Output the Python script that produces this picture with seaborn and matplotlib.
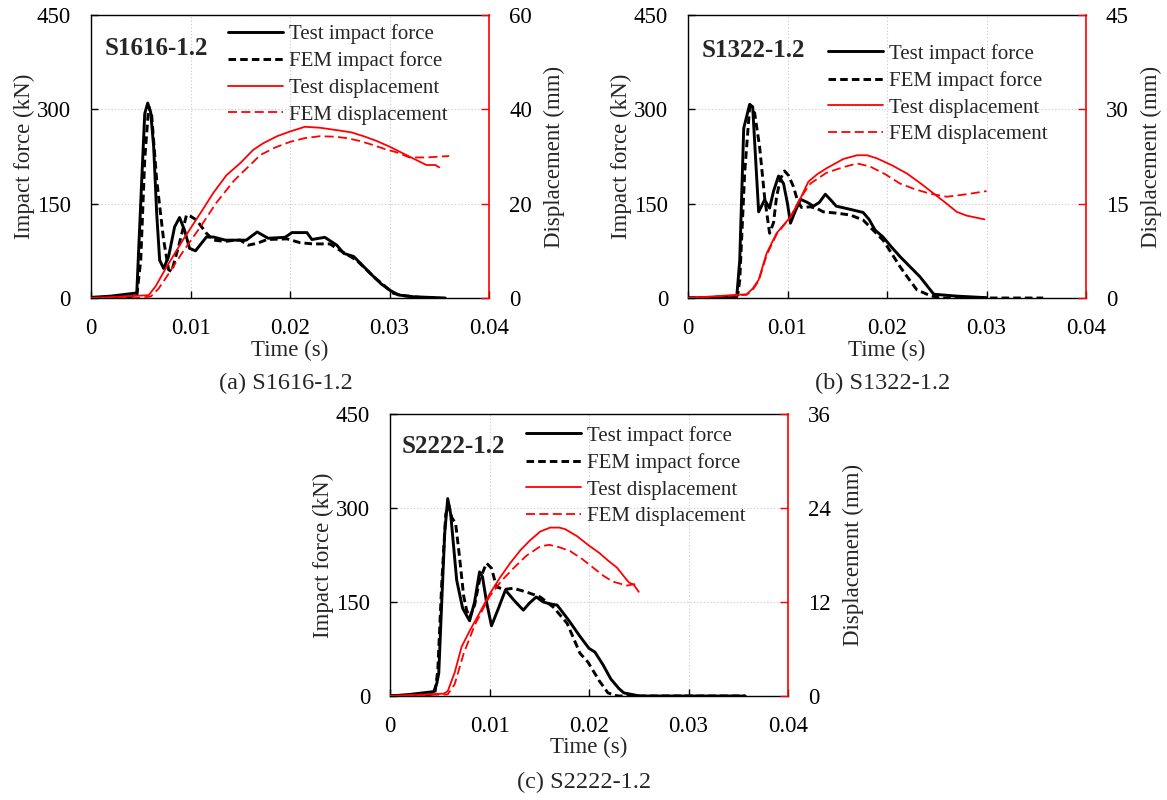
import numpy as np
import pandas as pd
import matplotlib
matplotlib.use("Agg")
import matplotlib.pyplot as plt
import seaborn as sns

# ---------------- data ----------------
x_ticks = [0, 0.01, 0.02, 0.03, 0.04]
x_tick_labels = ["0", "0.01", "0.02", "0.03", "0.04"]
force_ticks = [0, 150, 300, 450]
legend_labels = ["Test impact force", "FEM impact force", "Test displacement", "FEM displacement"]

# Panel (a) S1616-1.2  (time in ms, force kN, displacement mm)
a_test_force_t = [0, 2, 4.6, 5.1, 5.4, 5.7, 6.0, 6.3, 6.6, 6.9, 7.3, 7.8, 8.4, 8.9, 9.4, 9.9, 10.5, 11.6, 12.3, 13.5, 15.0, 15.6, 16.7, 17.8, 19.5, 20.2, 21.7, 22.2, 23.5, 24.7, 25.4, 26.4, 27.4, 28.4, 29.2, 30.0, 30.9, 32.4, 35.6]
a_test_force_v = [1, 3, 8, 188, 293, 310, 295, 240, 135, 60, 47, 66, 113, 128, 108, 79, 75, 97, 97, 92, 92, 92, 105, 95, 96.5, 104, 104, 93, 96.5, 84, 71, 66, 50, 34, 22, 12.7, 4.8, 2, 0]
a_fem_force_t = [0, 3.0, 4.6, 5.0, 5.4, 5.8, 6.1, 6.6, 7.3, 7.8, 8.1, 8.8, 9.6, 10.0, 10.6, 11.6, 12.3, 13.5, 14.5, 15.0, 15.8, 16.7, 17.7, 19.7, 21.0, 22.3, 24.0, 25.0, 26.7, 28.4, 30.4, 31.4, 33.0, 35.0]
a_fem_force_v = [0, 1, 3, 60, 220, 305, 290, 188, 92, 45, 42, 82, 132, 130, 124, 103, 92, 90, 92, 92, 84, 87, 93, 94, 88, 86, 86, 76, 60, 34, 7.4, 3.7, 1, 0]
a_test_disp_t = [0, 3, 5.8, 6.5, 7.6, 9.3, 11, 12.3, 13.6, 15.0, 16.3, 17.3, 18.7, 20.0, 21.5, 23.0, 25.0, 26.2, 27.4, 28.7, 30.0, 31.7, 33.7, 34.6, 35.0]
a_test_disp_v = [0, 0.3, 0.6, 2.5, 6.6, 12.5, 18, 22.3, 26, 28.6, 31.4, 32.8, 34.3, 35.3, 36.3, 36.1, 35.5, 35.1, 34.3, 33.3, 32.1, 30.3, 28.2, 28.2, 27.7]
a_fem_disp_t = [0, 4.5, 6.0, 6.8, 7.6, 9.3, 11, 12.6, 14.3, 15.0, 16.0, 17.0, 18.5, 20.0, 21.5, 23.0, 24.5, 25.7, 27.0, 28.4, 29.5, 30.7, 32.0, 33.7, 36.0]
a_fem_disp_v = [0, 0, 0.3, 2, 4.5, 10, 15.1, 20.2, 24.7, 26.2, 28.2, 30.3, 31.9, 33.1, 33.9, 34.3, 34.2, 33.9, 33.3, 32.4, 31.6, 30.9, 29.8, 29.8, 30.1]

# Panel (b) S1322-1.2
b_test_force_t = [0, 3, 4.9, 5.2, 5.6, 6.2, 6.5, 6.8, 7.1, 7.7, 8.2, 8.6, 9.1, 9.6, 10.0, 10.3, 10.7, 11.3, 12.0, 12.6, 13.2, 13.8, 14.4, 14.9, 16.3, 17.6, 18.2, 18.8, 19.6, 20.4, 21.3, 22.3, 23.3, 24.7, 27.0, 30.0]
b_test_force_v = [0, 1, 2, 60, 270, 308, 304, 220, 137, 156, 143, 170, 194, 182, 150, 119, 135, 157, 152, 146, 152, 165, 155, 146, 141, 136, 125, 108, 97, 82, 66, 50, 34, 6, 3, 0.5]
b_fem_force_t = [0, 4.5, 5.0, 5.2, 5.7, 6.2, 6.7, 7.2, 7.7, 8.2, 8.6, 8.9, 9.3, 9.7, 10.1, 10.6, 11.0, 11.4, 12.3, 13.0, 13.6, 14.9, 16.3, 17.6, 18.6, 19.6, 20.5, 21.3, 22.2, 23.0, 24.3, 25.3, 35.7]
b_fem_force_v = [0, 1, 5, 28, 200, 304, 294, 240, 160, 103, 120, 161, 190, 202, 195, 177, 155, 144, 145, 142, 137, 135, 132, 124, 108, 92, 70, 50, 30, 13, 4, 0, 0]
b_test_disp_t = [0, 5.9, 6.5, 7.1, 7.9, 8.9, 10.3, 11.2, 12.1, 13.0, 13.9, 15.6, 17.0, 18.0, 19.0, 20.5, 22.0, 23.4, 24.7, 26.0, 27.0, 28.0, 29.8]
b_test_disp_v = [0, 0.6, 1.5, 2.9, 7.1, 10.3, 12.9, 15.5, 18.5, 19.7, 20.6, 22.1, 22.7, 22.7, 22.2, 21.1, 19.8, 18.2, 16.6, 15.0, 13.7, 13.1, 12.5]
b_fem_disp_t = [0, 5.9, 6.5, 7.1, 7.9, 8.9, 10.3, 11.3, 12.3, 13.9, 15.6, 17.0, 18.3, 19.8, 21.3, 22.8, 24.3, 26.0, 28.0, 30.0]
b_fem_disp_v = [0, 0.5, 1.3, 2.7, 6.8, 10.1, 12.9, 15.9, 18.2, 19.9, 20.8, 21.4, 20.9, 19.7, 18.2, 17.3, 16.6, 16.1, 16.5, 17.0]

# Panel (c) S2222-1.2
c_test_force_t = [0, 2, 4.4, 4.7, 4.9, 5.2, 5.5, 5.8, 6.1, 6.7, 7.3, 8.0, 8.5, 9.0, 9.3, 9.7, 10.2, 10.9, 11.6, 12.5, 13.4, 14.0, 14.7, 15.4, 16.1, 16.8, 18.0, 19.1, 20.0, 20.6, 21.4, 22.2, 23.0, 23.5, 25.1, 35.7]
c_test_force_v = [0, 2.5, 7, 20, 36, 150, 260, 315, 290, 185, 140, 120, 150, 198, 190, 150, 112, 140, 169, 152, 137, 148, 158, 150, 147, 145, 120, 95, 76, 70, 50, 27, 12, 5, 0, 0]
c_fem_force_t = [0, 3, 4.5, 4.8, 5.2, 5.6, 5.9, 6.2, 6.6, 7.0, 7.4, 7.7, 8.0, 8.5, 9.0, 9.7, 10.2, 10.7, 11.5, 12.4, 13.7, 15.1, 16.4, 17.8, 19.1, 19.9, 21.0, 21.9, 22.6, 23.0, 35.7]
c_fem_force_v = [0, 0.5, 3, 40, 180, 290, 305, 285, 275, 220, 160, 137, 125, 145, 185, 212, 204, 174, 170, 172, 166, 158, 142, 116, 68, 54, 25, 5, 1, 0, 0]
c_test_disp_t = [0, 5.4, 5.8, 6.5, 7.2, 8.0, 9.0, 10.0, 11.1, 12.1, 13.1, 14.1, 15.1, 16.1, 17.0, 17.6, 18.8, 20.0, 21.0, 22.0, 22.8, 24.0, 24.5, 25.0]
c_test_disp_v = [0, 0.3, 0.6, 3, 6.3, 8.3, 10.6, 13, 15.2, 17, 18.6, 19.9, 21, 21.5, 21.5, 21.3, 20.4, 19.2, 18.3, 17.2, 16.4, 14.5, 14.2, 13.3]
c_fem_disp_t = [0, 5.8, 6.5, 7.4, 8.5, 10.0, 11.2, 12.4, 13.7, 15.1, 16.0, 17.0, 18.1, 19.3, 20.6, 21.5, 22.4, 23.8, 24.7]
c_fem_disp_v = [0, 0.2, 1.5, 5.4, 9, 12.7, 14.7, 16.3, 17.9, 19.1, 19.3, 19.0, 18.5, 17.5, 16.2, 15.3, 14.6, 14.1, 14.3]

panels = [
    dict(name="S1616-1.2", caption="(a) S1616-1.2", disp_ticks=[0, 20, 40, 60],
         tf=(a_test_force_t, a_test_force_v), ff=(a_fem_force_t, a_fem_force_v),
         td=(a_test_disp_t, a_test_disp_v), fd=(a_fem_disp_t, a_fem_disp_v)),
    dict(name="S1322-1.2", caption="(b) S1322-1.2", disp_ticks=[0, 15, 30, 45],
         tf=(b_test_force_t, b_test_force_v), ff=(b_fem_force_t, b_fem_force_v),
         td=(b_test_disp_t, b_test_disp_v), fd=(b_fem_disp_t, b_fem_disp_v)),
    dict(name="S2222-1.2", caption="(c) S2222-1.2", disp_ticks=[0, 12, 24, 36],
         tf=(c_test_force_t, c_test_force_v), ff=(c_fem_force_t, c_fem_force_v),
         td=(c_test_disp_t, c_test_disp_v), fd=(c_fem_disp_t, c_fem_disp_v)),
]

# ---------------- layout / style ----------------
W, H = 1167, 800
boxes = [(91, 15, 489, 298), (688, 15, 1086, 298), (390, 414, 788, 696)]
legend_anchor = [(0.344, 0.968), (0.352, 0.898), (0.342, 0.958)]
name_pos = [(0.033, 0.883), (0.033, 0.876), (0.030, 0.883)]
caption_pos = [(285.5, 383), (883, 383), (584, 782)]

sns.set_style("ticks")
plt.rcParams["font.family"] = ["Liberation Serif", "DejaVu Serif"]
plt.rcParams["axes.linewidth"] = 1.0

fig = plt.figure(figsize=(W / 100, H / 100), dpi=100)

TICK = 16.5

def to_df(tv):
    t, v = tv
    return pd.DataFrame({"t": np.asarray(t) / 1000.0, "v": v})

for i, p in enumerate(panels):
    l, t, r, b = boxes[i]
    ax = fig.add_axes([l / W, 1 - b / H, (r - l) / W, (b - t) / H])
    ax2 = ax.twinx()

    sns.lineplot(data=to_df(p["tf"]), x="t", y="v", ax=ax, color="black", lw=2.1,
                 estimator=None, sort=False, label=legend_labels[0], legend=False)
    sns.lineplot(data=to_df(p["ff"]), x="t", y="v", ax=ax, color="black", lw=2.1,
                 estimator=None, sort=False, label=legend_labels[1], legend=False)
    ax.lines[-1].set_dashes((2.6, 1.4))
    sns.lineplot(data=to_df(p["td"]), x="t", y="v", ax=ax2, color="#ff0000", lw=1.3,
                 estimator=None, sort=False, label=legend_labels[2], legend=False)
    sns.lineplot(data=to_df(p["fd"]), x="t", y="v", ax=ax2, color="#ff0000", lw=1.3,
                 estimator=None, sort=False, label=legend_labels[3], legend=False)
    ax2.lines[-1].set_dashes((5, 2.4))

    ax.set_xlim(0, 0.04)
    ax.set_ylim(0, 450)
    dt = p["disp_ticks"]
    ax2.set_ylim(0, dt[-1])
    ax.set_xticks(x_ticks)
    ax.set_xticklabels(x_tick_labels)
    ax.set_yticks(force_ticks)
    ax.set_yticklabels([str(v) for v in force_ticks])
    ax2.set_yticks(dt)
    ax2.set_yticklabels([str(v) for v in dt])

    ax.grid(True, color="#cfcfcf", linestyle=(0, (1.2, 1.8)), lw=0.8)
    ax.set_axisbelow(True)

    ax.tick_params(axis="both", direction="in", length=5, width=1.0,
                   labelsize=TICK, pad=14.4, colors="black")
    ax2.tick_params(axis="y", direction="in", length=6, width=1.0, colors="#ff0000",
                    labelcolor="black", labelsize=TICK, pad=14.4)

    for s in ["left", "bottom", "top"]:
        ax.spines[s].set_color("black")
        ax.spines[s].set_linewidth(1.0)
    ax.spines["right"].set_visible(False)
    for s in ["left", "bottom", "top"]:
        ax2.spines[s].set_visible(False)
    ax2.spines["right"].set_color("#ff0000")
    ax2.spines["right"].set_linewidth(1.2)

    ax.set_xlabel("Time (s)", fontsize=TICK, va="center")
    ax.xaxis.set_label_coords(0.5, -0.184)
    ax.set_ylabel("Impact force (kN)", fontsize=TICK, va="center")
    ax.yaxis.set_label_coords(-0.168, 0.5)
    ax2.set_ylabel("Displacement (mm)", fontsize=TICK, va="center")
    ax2.yaxis.set_label_coords(1.165, 0.5)

    ax.text(name_pos[i][0], name_pos[i][1], p["name"], transform=ax.transAxes,
            fontsize=18, fontweight="bold", ha="left", va="center")

    handles = ax.lines[:2] + ax2.lines[:2]
    ax2.legend(handles, legend_labels, loc="upper left", bbox_to_anchor=legend_anchor[i],
               frameon=False, fontsize=15, handlelength=2.64, handletextpad=0.3,
               labelspacing=0.345, borderpad=0, borderaxespad=0)

    cx, cy = caption_pos[i]
    fig.text(cx / W, 1 - cy / H, p["caption"], fontsize=17.5, ha="center", va="center")

fig.savefig("out.png", dpi=100)
